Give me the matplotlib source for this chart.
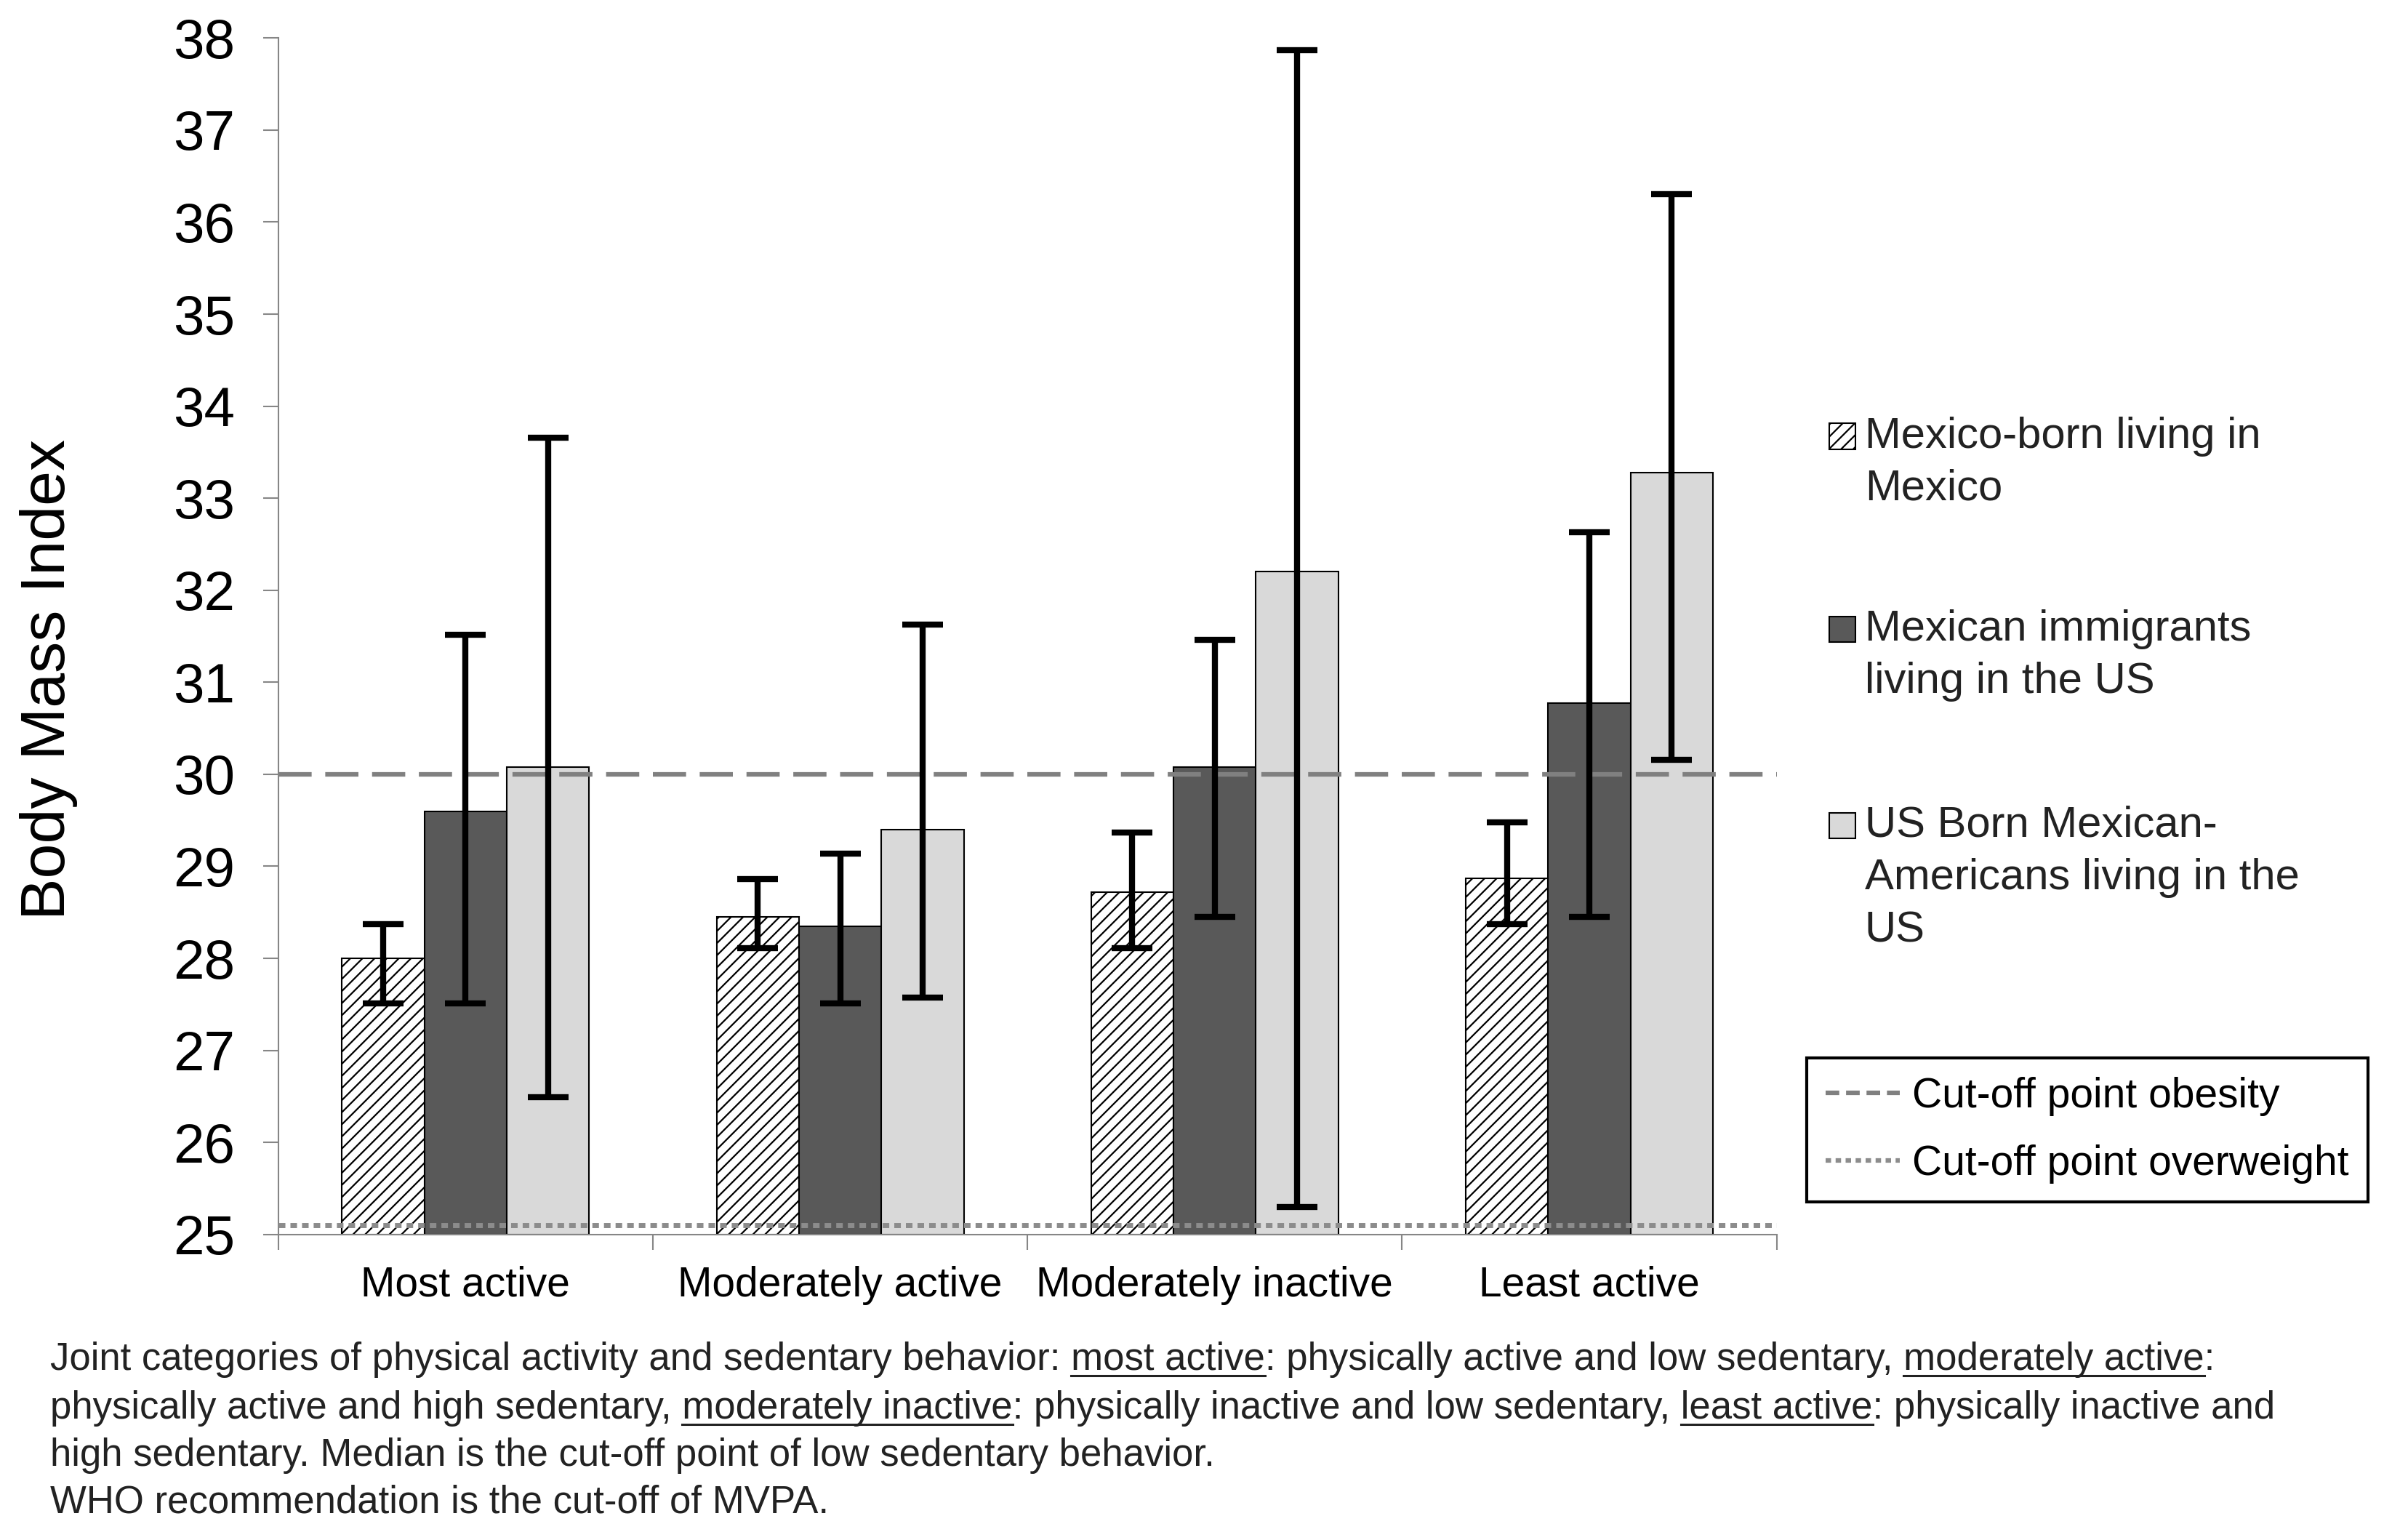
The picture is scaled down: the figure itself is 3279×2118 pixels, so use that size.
import matplotlib
matplotlib.use("Agg")
import matplotlib.pyplot as plt
from matplotlib.patches import Rectangle
from matplotlib.lines import Line2D
import numpy as np

plt.rcParams['font.family'] = ['Liberation Sans', 'DejaVu Sans']
plt.rcParams['hatch.linewidth'] = 1.6

categories = ["Most active", "Moderately active", "Moderately inactive", "Least active"]
series_names = ["Mexico-born living in\nMexico",
                "Mexican immigrants\nliving in the US",
                "US Born Mexican-\nAmericans living in the\nUS"]
# mean BMI
mex_mex = [28.00, 28.45, 28.72, 28.87]
mex_imm = [29.60, 28.35, 30.08, 30.77]
us_born = [30.08, 29.40, 32.20, 33.28]
# error bar ends (lower, upper)
mex_mex_lo = [27.51, 28.11, 28.11, 28.37]
mex_mex_hi = [28.37, 28.86, 29.37, 29.48]
mex_imm_lo = [27.51, 27.51, 28.45, 28.45]
mex_imm_hi = [31.52, 29.14, 31.46, 32.63]
us_born_lo = [26.49, 27.57, 25.30, 30.16]
us_born_hi = [33.66, 31.63, 37.87, 36.30]

obesity_cut = 30.0
overweight_cut = 25.1
yticks = list(range(25, 39))

fig = plt.figure(figsize=(32.8, 21.18), dpi=100)
ax = fig.add_axes([0.1167, 0.1984, 0.6283, 0.7769])

x = np.arange(len(categories))
w = 0.22
fills = ['white', '#595959', '#d9d9d9']
hatches = ['//', None, None]
vals = [mex_mex, mex_imm, us_born]
los = [mex_mex_lo, mex_imm_lo, us_born_lo]
his = [mex_mex_hi, mex_imm_hi, us_born_hi]
offs = [-w, 0, w]
for v, lo, hi, fc, h, o in zip(vals, los, his, fills, hatches, offs):
    v = np.array(v); lo = np.array(lo); hi = np.array(hi)
    ax.bar(x + o, v - 25, bottom=25, width=w, color=fc, edgecolor='black',
           linewidth=1.5, hatch=h, zorder=2)
    ax.errorbar(x + o, v, yerr=[v - lo, hi - v], fmt='none', ecolor='black',
                elinewidth=6, capsize=20, capthick=6, zorder=4)

l1 = ax.axhline(obesity_cut, color='#808080', lw=4.5, linestyle=(0, (7.3, 3)), zorder=3)
l2 = ax.axhline(overweight_cut, color='#8c8c8c', lw=5, linestyle=(0, (1.3, 1.0)), zorder=3)

ax.set_xlim(-0.5, 3.5)
ax.set_ylim(25, 38)
ax.set_yticks(yticks)
ax.tick_params(axis='y', labelsize=55, length=15, width=1.5, color='#868686', pad=28)
ax.set_xticks(x)
ax.set_xticklabels(categories, fontsize=41)
ax.set_xticks(np.arange(-0.5, 3.6, 1.0), minor=True)
ax.tick_params(axis='x', which='major', length=0, pad=31)
ax.tick_params(axis='x', which='minor', length=15, width=1.5, color='#868686')
for s in ['top', 'right']:
    ax.spines[s].set_visible(False)
for s in ['left', 'bottom']:
    ax.spines[s].set_color('#868686')
    ax.spines[s].set_linewidth(1.5)

fig.text(0.0204, 0.559, 'Body Mass Index', rotation=90, ha='center', va='center', fontsize=62)

# patch legend (manual, handle aligned with first line)
leg_x = 0.7672
leg_tx = 0.7819
first_line_y = [1 - 287/1013, 1 - 414/1013, 1 - 543/1013]
line_step = 34.5/1013
sq_w, sq_h = 17/1568, 17/1013
for name, fc, h, y0 in zip(series_names, fills, hatches, first_line_y):
    fig.add_artist(Rectangle((leg_x, y0 - sq_h/2), sq_w, sq_h, transform=fig.transFigure,
                             facecolor=fc, edgecolor='black', linewidth=1.5, hatch=h))
    for k, ln in enumerate(name.split('\n')):
        fig.text(leg_tx, y0 - k*line_step, ln, ha='left', va='center', fontsize=43, color='#222222')

leg = fig.legend([Line2D([], [], color='#808080', lw=4.5, linestyle=(0, (3, 1.5))),
                  Line2D([], [], color='#8c8c8c', lw=4.5, linestyle=(0, (1.2, 1.0)))],
                 ['Cut-off point obesity', 'Cut-off point overweight'],
                 loc='upper left', bbox_to_anchor=(0.7577, 0.3129), bbox_transform=fig.transFigure,
                 fontsize=41, frameon=True, fancybox=False, framealpha=1, edgecolor='black',
                 handlelength=1.8, handletextpad=0.3, borderpad=0.45, labelspacing=0.68,
                 borderaxespad=0)
leg.get_frame().set_linewidth(3)

# footnote with underlined words
foot_lines = [
    "Joint categories of physical activity and sedentary behavior: most active: physically active and low sedentary, moderately active:",
    "physically active and high sedentary, moderately inactive: physically inactive and low sedentary, least active: physically inactive and",
    "high sedentary. Median is the cut-off point of low sedentary behavior.",
    "WHO recommendation is the cut-off of MVPA.",
]
underlined = [["most active", "moderately active"], ["moderately inactive", "least active"], [], []]
foot_base = [1 - 901/1013, 1 - 933/1013, 1 - 964/1013, 1 - 995/1013]
foot_x = 33/1568
target_w = 1423 * 3280/1568

renderer = fig.canvas.get_renderer()
probe = fig.text(0, 0, foot_lines[0], fontsize=30)
pw = probe.get_window_extent(renderer).width
probe.remove()
fsize = 30 * target_w / pw

def width_of(s):
    t = fig.text(0, 0, s, fontsize=fsize)
    ww = t.get_window_extent(renderer).width
    t.remove()
    return ww

W, H = fig.bbox.width, fig.bbox.height
for ln, unds, yb in zip(foot_lines, underlined, foot_base):
    t = fig.text(foot_x, yb, ln, ha='left', va='baseline', fontsize=fsize, color='#222222')
    x0 = t.get_window_extent(renderer).x0
    for u in unds:
        i = ln.find(u)
        end = x0 + width_of(ln[:i + len(u)])
        start = end - width_of(u)
        uy = yb - 0.16 * fsize * 100/72 / H
        fig.add_artist(Line2D([start / W, end / W], [uy, uy], transform=fig.transFigure,
                              color='#222222', lw=2.2))

fig.savefig('out.png', dpi=100)
